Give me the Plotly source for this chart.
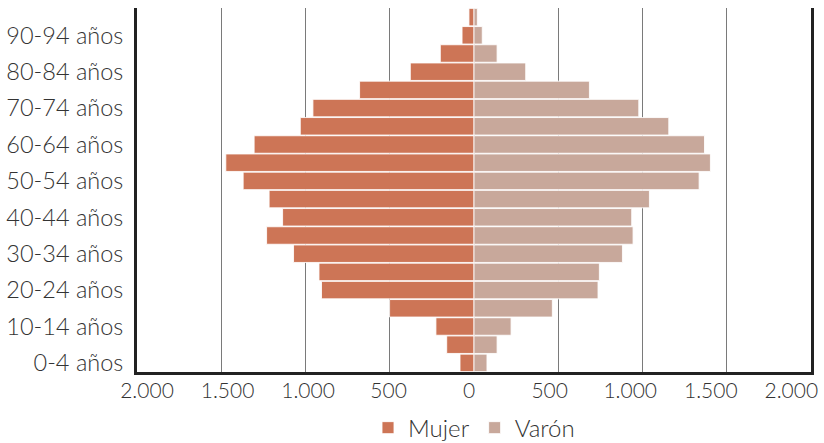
import plotly.graph_objects as go

grupos = ["0-4", "5-9", "10-14", "15-19", "20-24", "25-29", "30-34", "35-39",
          "40-44", "45-49", "50-54", "55-59", "60-64", "65-69", "70-74", "75-79",
          "80-84", "85-89", "90-94", "95-99"]
mujer = [83, 162, 226, 501, 905, 920, 1071, 1231, 1136, 1216, 1370, 1473,
         1305, 1031, 956, 679, 378, 200, 71, 30]
varon = [77, 137, 220, 465, 736, 744, 881, 944, 936, 1041, 1336, 1403,
         1368, 1156, 978, 685, 307, 137, 49, 20]
eje_valores = [-2000, -1500, -1000, -500, 0, 500, 1000, 1500, 2000]
eje_textos = ["2.000", "1.500", "1.000", "500", "0", "500", "1.000", "1.500", "2.000"]
etiquetas_y = [g for g in grupos[::2]]
textos_y = [g + " años" for g in etiquetas_y]

FONT = "Lato"
C_MUJER = "#CD7556"
C_VARON = "#C8A89B"

fig = go.Figure()
fig.add_trace(go.Bar(
    y=grupos, x=[-v for v in mujer], orientation="h", name="Mujer",
    marker=dict(color=C_MUJER, line=dict(color="rgba(255,255,255,0.85)", width=1)),
    customdata=mujer, hovertemplate="%{y}: %{customdata}<extra>Mujer</extra>",
))
fig.add_trace(go.Bar(
    y=grupos, x=varon, orientation="h", name="Varón",
    marker=dict(color=C_VARON, line=dict(color="rgba(255,255,255,0.85)", width=1)),
    hovertemplate="%{y}: %{x}<extra>Varón</extra>",
))
# invisible trace carrying the tick-label axis
fig.add_trace(go.Scatter(x=[0], y=[grupos[0]], xaxis="x2", mode="markers",
                         marker=dict(opacity=0, size=1), showlegend=False,
                         hoverinfo="skip"))

fig.update_layout(
    width=824, height=443,
    margin=dict(l=137, r=13, t=8, b=71, autoexpand=False),
    barmode="relative", bargap=0.04,
    plot_bgcolor="white", paper_bgcolor="white",
    font=dict(family=FONT, color="#333333", size=20, weight=300),
    xaxis=dict(range=[-2000, 2000], tickvals=eje_valores, showticklabels=False,
               showgrid=True, gridcolor="#7a7a7a", gridwidth=1, zeroline=False,
               showline=True, linecolor="#222222", linewidth=3, ticks="",
               layer="below traces", fixedrange=True),
    xaxis2=dict(overlaying="x", side="bottom", range=[-2062.1, 2122.3],
                tickvals=eje_valores, ticktext=eje_textos, showgrid=False,
                zeroline=False, showline=False, ticks="", anchor="y",
                ticklabelstandoff=4,
                tickfont=dict(family=FONT, size=21, color="#333333", weight=300)),
    yaxis=dict(tickvals=etiquetas_y, ticktext=textos_y, showgrid=False,
               range=[-0.5, len(grupos) - 0.5], autorange=False,
               showline=True, mirror=True, linecolor="#222222", linewidth=3,
               ticks="", ticklabelstandoff=6, layer="below traces",
               tickfont=dict(family=FONT, size=23.5, color="#333333", weight=300),
               categoryorder="array", categoryarray=grupos),
    legend=dict(orientation="h", x=0.5, xanchor="center", y=-0.154, yanchor="middle",
                font=dict(family=FONT, size=24, color="#333333", weight=300),
                itemwidth=30, traceorder="normal"),
    showlegend=True,
)

fig.write_html("out.html")
